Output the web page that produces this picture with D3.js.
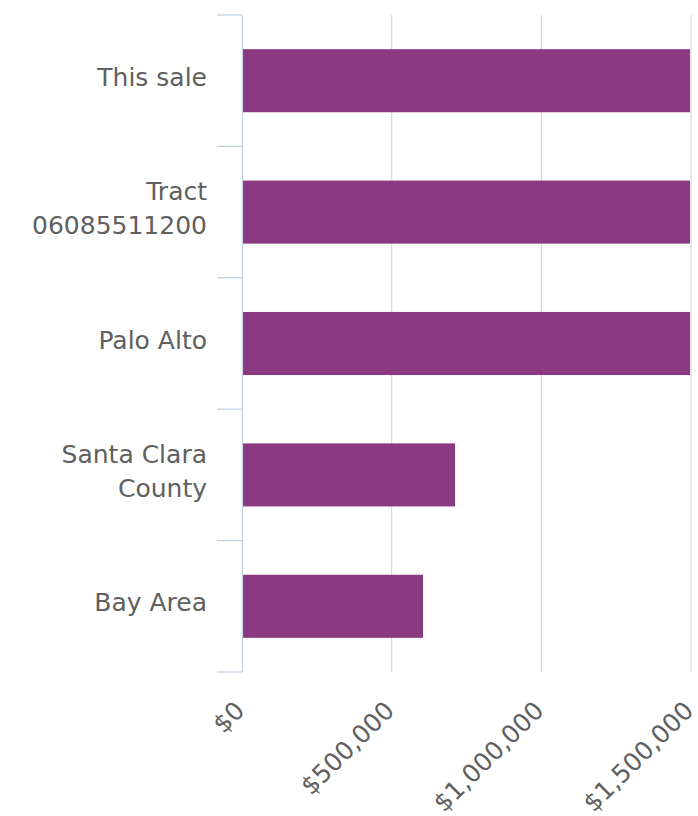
<!DOCTYPE html>
<html>
<head>
<meta charset="utf-8">
<script src="https://cdn.jsdelivr.net/npm/d3@7"></script>
<style>
  html, body { margin: 0; padding: 0; background: #ffffff; }
  svg { display: block; }
  text { font-family: "DejaVu Sans", Verdana, sans-serif; }
</style>
</head>
<body>
<div id="chart"></div>
<script>
// ---- data ----
const categories = ["This sale", "Tract 06085511200", "Palo Alto", "Santa Clara County", "Bay Area"];
const values = [1500000, 1500000, 1500000, 715000, 608000];
const tickValues = [0, 500000, 1000000, 1500000];

// ---- layout ----
const W = 698, H = 816;
const plotLeft = 242, plotRight = 691, plotTop = 15, plotBottom = 672;
const fontSize = 25;

const svg = d3.select("#chart").append("svg").attr("width", W).attr("height", H);

const x = d3.scaleLinear().domain([0, 1500000]).range([plotLeft, plotRight]);
const y = d3.scaleBand().domain(categories).range([plotTop, plotBottom])
  .paddingInner(0.52).paddingOuter(0.26);

// gridlines
svg.append("g").selectAll("line").data(tickValues.slice(1)).join("line")
  .attr("x1", d => x(d)).attr("x2", d => x(d))
  .attr("y1", plotTop).attr("y2", plotBottom)
  .attr("stroke", "#d8d8d8").attr("stroke-width", 1.2);

// bars
svg.append("g").selectAll("rect").data(categories).join("rect")
  .attr("x", x(0) + 1)
  .attr("y", d => y(d))
  .attr("width", (d, i) => Math.min(x(values[i]), plotRight) - x(0) - 2)
  .attr("height", y.bandwidth())
  .attr("fill", "#8b3a82");

// y axis line + ticks (at category boundaries)
svg.append("line")
  .attr("x1", plotLeft + 0.5).attr("x2", plotLeft + 0.5)
  .attr("y1", plotTop).attr("y2", plotBottom)
  .attr("stroke", "#c0d0e0").attr("stroke-width", 1.2);

const step = y.step();
const boundaries = categories.map(c => y(c) + y.bandwidth() / 2 - step / 2)
  .concat([y(categories[categories.length - 1]) + y.bandwidth() / 2 + step / 2]);
svg.append("g").selectAll("line").data(boundaries).join("line")
  .attr("x1", plotLeft - 25).attr("x2", plotLeft)
  .attr("y1", d => d).attr("y2", d => d)
  .attr("stroke", "#c0d0e0").attr("stroke-width", 1.2);

// y labels with word wrap
const labelG = svg.append("g");
categories.forEach(c => {
  const cy = y(c) + y.bandwidth() / 2;
  const t = labelG.append("text")
    .attr("text-anchor", "end")
    .attr("fill", "#606060")
    .style("font-size", fontSize + "px");
  const words = c.split(" ");
  const lines = [];
  let cur = "";
  const probe = labelG.append("text").style("font-size", fontSize + "px");
  words.forEach(w => {
    const test = cur ? cur + " " + w : w;
    probe.text(test);
    if (probe.node().getComputedTextLength() > 200 && cur) {
      lines.push(cur); cur = w;
    } else cur = test;
  });
  lines.push(cur);
  probe.remove();
  const lh = 34;
  const firstBase = cy + 5 - (lines.length - 1) * lh / 2;
  lines.forEach((ln, i) => {
    t.append("tspan").attr("x", 207).attr("y", firstBase + i * lh).text(ln);
  });
});

// x axis labels rotated
const fmt = d => "$" + d3.format(",")(d);
svg.append("g").selectAll("text").data(tickValues).join("text")
  .attr("text-anchor", "end")
  .attr("fill", "#606060")
  .style("font-size", fontSize + "px")
  .attr("transform", d => `translate(${x(d) + 4},${712}) rotate(-45)`)
  .text(fmt);
</script>
</body>
</html>
